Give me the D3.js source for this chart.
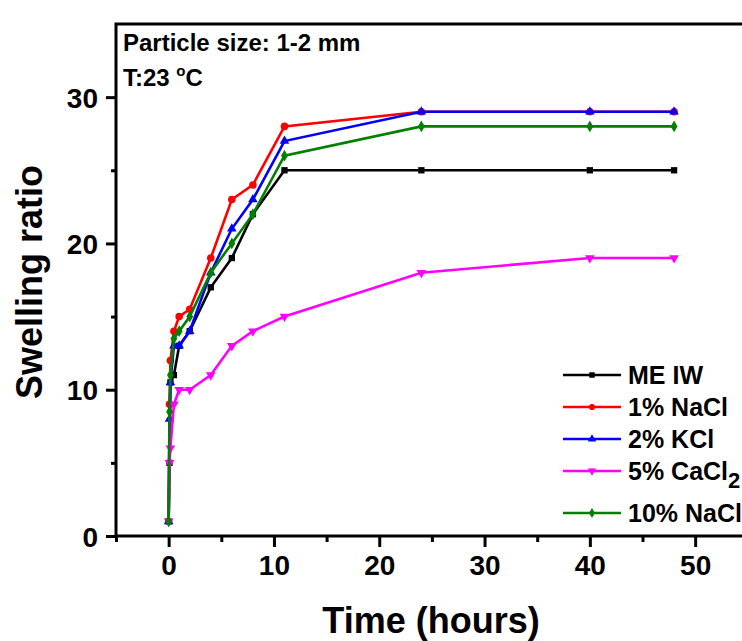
<!DOCTYPE html>
<html lang="en">
<head>
  <meta charset="UTF-8">
  <title>Swelling ratio</title>
  <style>
    body { margin: 0; background: #fff; }
    text { font-family: "Liberation Sans", Arial, sans-serif; font-weight: bold; }
  </style>
</head>
<body>
  <svg id="svg" width="742" height="641"></svg>
  <script src="https://cdn.jsdelivr.net/npm/d3@7"></script>
  <script>
    // time points (hours), shared by all series
    const hours = [0, 0.083, 0.167, 0.5, 1, 2, 4, 6, 8, 11, 24, 40, 48]

    const meIW    = [1, 5, 10.5, 11, 13, 14, 17, 19, 22, 25, 25, 25, 25]
    const nacl1   = [1, 9, 12, 14, 15, 15.5, 19, 23, 24, 28, 29, 29, 29]
    const kcl2    = [1, 8, 10.5, 13, 13, 14, 18, 21, 23, 27, 29, 29, 29]
    const cacl5   = [1, 5, 6, 9, 10, 10, 11, 13, 14, 15, 18, 19, 19]
    const nacl10  = [1, 8.5, 11, 13.5, 14, 15, 18, 20, 22, 26, 28, 28, 28]

    const seriesNames = ['ME IW', '1% NaCl', '2% KCl', '5% CaCl2', '10% NaCl']
    const xTicks = [0, 10, 20, 30, 40, 50]
    const yTicks = [0, 10, 20, 30]

    const series = [
      { name: seriesNames[0], values: meIW,   color: '#000000', symbol: d3.symbolSquare,   rot: 0 },
      { name: seriesNames[1], values: nacl1,  color: '#ff0000', symbol: d3.symbolCircle,   rot: 0 },
      { name: seriesNames[2], values: kcl2,   color: '#0000ff', symbol: d3.symbolTriangle, rot: 0 },
      { name: seriesNames[3], values: cacl5,  color: '#ff00ff', symbol: d3.symbolTriangle, rot: 180 },
      { name: seriesNames[4], values: nacl10, color: '#008000', symbol: d3.symbolDiamond,  rot: 0 }
    ]

    const svg = d3.select('#svg')
    const plotLeft = 116, plotTop = 24, plotBottom = 536

    const x = d3.scaleLinear().domain([-5, 55]).range([plotLeft, plotLeft + 60 * 10.53])
    const y = d3.scaleLinear().domain([0, 35]).range([plotBottom, plotTop])

    // axes
    const gx = svg.append('g').attr('transform', `translate(0,${plotBottom})`)
    gx.call(d3.axisBottom(x).tickValues(d3.range(-5, 56, 10)).tickSize(6).tickFormat(''))
    gx.call(g => g.append('g').call(d3.axisBottom(x).tickValues(xTicks).tickSize(11).tickPadding(8)))
    gx.selectAll('.domain').remove()
    gx.selectAll('line').attr('stroke', '#000').attr('stroke-width', 3)
    gx.selectAll('text').attr('font-size', 28).attr('fill', '#000')

    const gy = svg.append('g').attr('transform', `translate(${plotLeft},0)`)
    gy.call(d3.axisLeft(y).tickValues([5, 15, 25]).tickSize(5).tickFormat(''))
    gy.call(g => g.append('g').call(d3.axisLeft(y).tickValues(yTicks).tickSize(10).tickPadding(8)))
    gy.selectAll('.domain').remove()
    gy.selectAll('line').attr('stroke', '#000').attr('stroke-width', 3)
    gy.selectAll('text').attr('font-size', 28).attr('fill', '#000').attr('dy', '0.36em')

    // frame: left, bottom, top
    svg.append('path')
      .attr('d', `M${x.range()[1]},${plotTop}H${plotLeft}V${plotBottom}H${x.range()[1]}`)
      .attr('fill', 'none').attr('stroke', '#000').attr('stroke-width', 3)

    // series
    const line = d3.line().x((d, i) => x(hours[i])).y(d => y(d))
    series.forEach(s => {
      const g = svg.append('g')
      g.append('path').datum(s.values).attr('d', line)
        .attr('fill', 'none').attr('stroke', s.color).attr('stroke-width', 2.6)
      g.selectAll('path.pt').data(s.values).join('path').attr('class', 'pt')
        .attr('d', d3.symbol().type(s.symbol).size(s.symbol === d3.symbolCircle ? 45 : 40))
        .attr('transform', (d, i) => `translate(${x(hours[i])},${y(d)}) rotate(${s.rot})`)
        .attr('fill', s.color)
    })

    // axis titles
    svg.append('text').attr('x', 431).attr('y', 633).attr('text-anchor', 'middle')
      .attr('font-size', 36).text('Time (hours)')
    svg.append('text').attr('transform', 'translate(42,282) rotate(-90)')
      .attr('text-anchor', 'middle').attr('font-size', 36).text('Swelling ratio')

    // annotations
    svg.append('text').attr('x', 123).attr('y', 51).attr('font-size', 24).text('Particle size: 1-2 mm')
    const t = svg.append('text').attr('x', 123).attr('y', 86).attr('font-size', 24)
    t.append('tspan').text('T:23 ')
    t.append('tspan').attr('font-size', 15).attr('dy', -10).text('o')
    t.append('tspan').attr('dy', 10).text('C')

    // legend
    series.forEach((s, i) => {
      const ly = 375 + i * 32 + (i === 4 ? 10 : 0)
      const g = svg.append('g').attr('transform', `translate(563,${ly})`)
      g.append('line').attr('x1', 0).attr('x2', 58).attr('stroke', s.color).attr('stroke-width', 2.6)
      g.append('path').attr('d', d3.symbol().type(s.symbol).size(30))
        .attr('transform', `translate(29,0) rotate(${s.rot})`).attr('fill', s.color)
      const txt = g.append('text').attr('x', 65).attr('dy', '0.36em').attr('font-size', 25)
      if (s.name.endsWith('CaCl2')) {
        txt.append('tspan').text('5% CaCl')
        txt.append('tspan').attr('dy', 8).attr('font-size', 22).text('2')
      } else {
        txt.text(s.name)
      }
    })
  </script>
</body>
</html>
